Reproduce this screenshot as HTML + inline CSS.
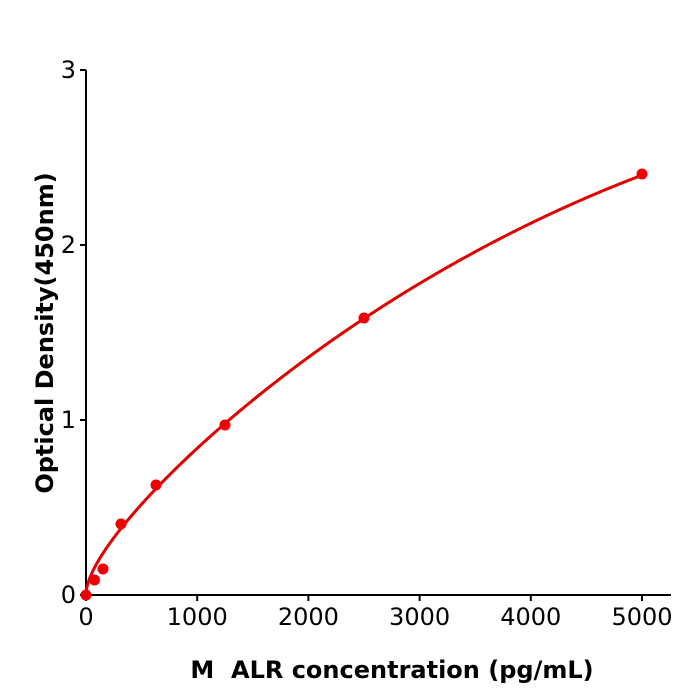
<!DOCTYPE html>
<html><head><meta charset="utf-8"><style>
html,body{margin:0;padding:0;background:#fff;}
svg{display:block;font-family:"DejaVu Sans","Liberation Sans",sans-serif;}
</style></head><body>
<svg id="s" width="700" height="700" viewBox="0 0 700 700" xmlns="http://www.w3.org/2000/svg">
<rect width="700" height="700" fill="#fff"/>
<g stroke="#000" stroke-width="2" fill="none">
<line x1="86" y1="70" x2="86" y2="596"/>
<line x1="85" y1="595" x2="671" y2="595"/>
<line x1="80" y1="595" x2="86" y2="595"/>
<line x1="80" y1="420" x2="86" y2="420"/>
<line x1="80" y1="245" x2="86" y2="245"/>
<line x1="80" y1="70" x2="86" y2="70"/>
<line x1="86" y1="595" x2="86" y2="601"/>
<line x1="197.2" y1="595" x2="197.2" y2="601"/>
<line x1="308.4" y1="595" x2="308.4" y2="601"/>
<line x1="419.6" y1="595" x2="419.6" y2="601"/>
<line x1="530.8" y1="595" x2="530.8" y2="601"/>
<line x1="642" y1="595" x2="642" y2="601"/>
</g>
<g font-size="24" fill="#000" text-anchor="end">
<text x="76" y="603">0</text>
<text x="76" y="428">1</text>
<text x="76" y="253">2</text>
<text x="76" y="78">3</text>
</g>
<g font-size="24" fill="#000" text-anchor="middle">
<text x="86" y="625">0</text>
<text x="197.2" y="625">1000</text>
<text x="308.4" y="625">2000</text>
<text x="419.6" y="625">3000</text>
<text x="530.8" y="625">4000</text>
<text x="642" y="625">5000</text>
</g>
<text x="392" y="678" font-size="24" font-weight="bold" text-anchor="middle" style="white-space:pre">M  ALR concentration (pg/mL)</text>
<text transform="translate(53,333) rotate(-90)" font-size="24" font-weight="bold" text-anchor="middle">Optical Density(450nm)</text>
<path id="curve" fill="none" stroke="#e00000" stroke-width="3"/>
<g fill="#f00000">
<circle cx="86" cy="595" r="5.5"/>
<circle cx="94.5" cy="580" r="5.5"/>
<circle cx="103" cy="569" r="5.5"/>
<circle cx="121" cy="524" r="5.5"/>
<circle cx="156" cy="485" r="5.5"/>
<circle cx="225" cy="425" r="5.5"/>
<circle cx="364" cy="318" r="5.5"/>
<circle cx="642" cy="174" r="5.5"/>
</g>
</svg>
<script>
var p=0.01419,q=0.0004171,r=-2.76e-8;
var d="";for(var i=0;i<=400;i++){var x=5000*Math.pow(i/400,2);var y=p*Math.sqrt(x)+q*x+r*x*x;var px=86+x*0.1112,py=595-y*175;d+=(i?"L":"M")+px.toFixed(2)+","+py.toFixed(2);}
document.getElementById("curve").setAttribute("d",d);
</script>
</body></html>
